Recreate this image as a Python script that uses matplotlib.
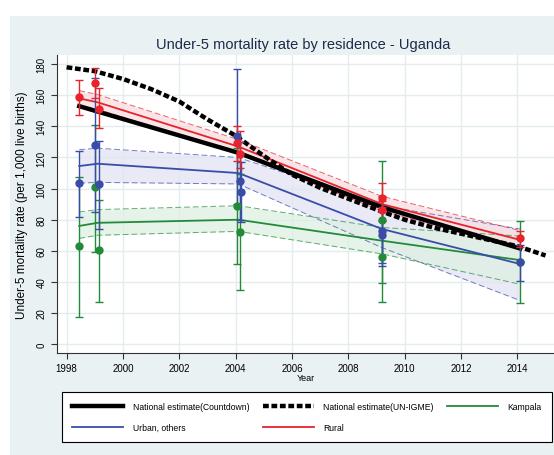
import numpy as np
import matplotlib.pyplot as plt
from matplotlib.patches import Rectangle

plt.rcParams['font.family'] = ['Liberation Sans', 'DejaVu Sans']

# 国家估计
igme_years = [1998, 1999, 2000, 2001, 2002, 2003, 2004, 2005, 2006, 2007, 2008, 2009, 2010, 2011, 2012, 2013, 2014, 2015]
igme_vals = [178, 175.5, 170.5, 164, 156, 144.5, 134, 121, 109, 100.5, 93.5, 86.5, 80, 75, 71, 67, 63, 57]
cd_years = [1998.45, 2004.1, 2009.2, 2014.1]
cd_vals = [153, 123, 88, 61.5]

# 平滑线和置信带
fit_years = [1998.45, 1999.1, 2004.1, 2009.2, 2014.1]
rural_fit = [158, 155.5, 127, 90, 67]
rural_hi = [163, 160.5, 131.5, 95, 73]
rural_lo = [153, 151, 122.5, 85.5, 61.5]
urban_fit = [114.5, 116, 110, 74, 51.5]
urban_hi = [125, 126, 120, 89, 74]
urban_lo = [103.5, 104, 103, 62, 28]
kamp_fit = [76, 78, 80, 66.5, 54]
kamp_hi = [85, 86.5, 89, 75, 69.5]
kamp_lo = [68, 70, 72.5, 58, 38.5]

# 调查点 (年份, 值, 下限, 上限)
rural_x = [1998.45, 1999.02, 1999.15, 2004.05, 2004.15, 2009.2, 2009.2, 2014.1]
rural_y = [159, 168, 151.5, 129, 122, 94, 86, 68]
rural_l = [147.5, 158, 139, 118, 113, 85.5, 79, 62.5]
rural_h = [170, 177.5, 164.5, 140, 137, 103.5, 92, 73]

urban_x = [1998.45, 1999.02, 1999.15, 2004.05, 2004.15, 2004.18, 2009.2, 2009.2, 2014.1]
urban_y = [103.5, 128, 103, 133.5, 105, 98, 73, 70, 52.5]
urban_l = [82, 85, 74, 90, 80, 78.5, 50.5, 52, 40.8]
urban_h = [124, 171, 130.5, 177, 130, 117, 95.5, 88, 64]

kamp_x = [1998.45, 1999.02, 1999.15, 2004.05, 2004.15, 2009.2, 2009.2, 2014.1]
kamp_y = [63.3, 101, 60.6, 88.7, 72.3, 79.7, 56.3, 53]
kamp_l = [17.3, 59, 27.3, 51.6, 35, 39.4, 27.3, 26.7]
kamp_h = [107.3, 141, 92.9, 126, 109.6, 118, 85, 79]

xticks = list(range(1998, 2015, 2))
yticks = list(range(0, 181, 20))

red = '#e8232b'
blue = '#3a4ca8'
green = '#238a3a'
dash = (0, (1.3, 0.6))

fig = plt.figure(figsize=(5.54, 4.56), dpi=100)
fig.patch.set_facecolor('white')
fig.patches.append(Rectangle((10 / 554, 0), 1, 1 - 17 / 456, transform=fig.transFigure,
                             facecolor='#e9f1f3', edgecolor='none', zorder=-5))

ax = fig.add_axes([57 / 554, 1 - 354 / 456, 1 - 57 / 554, 298 / 456])
ax.set_zorder(2)
ax.set_facecolor('white')

for fy, hi, lo, c, fc in [(fit_years, urban_hi, urban_lo, blue, '#e2e4f4'),
                          (fit_years, kamp_hi, kamp_lo, green, '#def0e2'),
                          (fit_years, rural_hi, rural_lo, red, '#f8dde0')]:
    ax.fill_between(fy, lo, hi, color=fc, alpha=0.75, lw=0, zorder=1)
    ax.plot(fy, hi, color=c, lw=0.7, ls=(0, (6, 3)), alpha=0.7, zorder=2)
    ax.plot(fy, lo, color=c, lw=0.7, ls=(0, (6, 3)), alpha=0.7, zorder=2)

ax.plot(fit_years, kamp_fit, color=green, lw=1.3, zorder=3)
ax.plot(fit_years, urban_fit, color=blue, lw=1.3, zorder=3)
ax.plot(fit_years, rural_fit, color=red, lw=1.3, zorder=3)

ax.plot(cd_years, cd_vals, color='black', lw=3.2, zorder=3)
ax.plot(igme_years, igme_vals, color='black', lw=3.2, ls=dash, zorder=3)

for xs, ys, ls_, hs, c in [(kamp_x, kamp_y, kamp_l, kamp_h, green),
                           (urban_x, urban_y, urban_l, urban_h, blue),
                           (rural_x, rural_y, rural_l, rural_h, red)]:
    ys = np.array(ys)
    err = [ys - np.array(ls_), np.array(hs) - ys]
    ax.errorbar(xs, ys, yerr=err, fmt='o', color=c, ms=5, lw=1, capsize=3, capthick=1, zorder=4)

ax.set_xlim(1997.66, 2015.3)
ax.set_ylim(-5.7, 185.9)
ax.set_xticks(xticks)
ax.set_yticks(yticks)
ax.tick_params(axis='both', labelsize=7, color='#333333', length=4, direction='out')
for lab in ax.get_yticklabels():
    lab.set_rotation(90)
    lab.set_va('center')
ax.grid(True, color='#e3ecef', lw=1)
ax.set_axisbelow(True)
ax.spines['top'].set_visible(False)
ax.spines['right'].set_visible(False)
ax.spines['left'].set_color('#333333')
ax.spines['bottom'].set_color('#333333')

ax.set_xlabel('Year', fontsize=6.5, labelpad=0)
ax.set_ylabel('Under-5 mortality rate (per 1,000 live births)', fontsize=8.5, labelpad=6)

fig.text(303 / 554, 1 - 45 / 456, 'Under-5 mortality rate by residence - Uganda',
         ha='center', va='center', fontsize=10.5, color='#1e2a4a')

h1, = ax.plot([], [], color='black', lw=3.2)
h2, = ax.plot([], [], color='black', lw=3.2, ls=dash)
h3, = ax.plot([], [], color=green, lw=1.3)
h4, = ax.plot([], [], color=blue, lw=1.3)
h5, = ax.plot([], [], color=red, lw=1.3)
leg = fig.legend([h1, h4, h2, h5, h3],
                 ['National estimate(Countdown)', 'Urban, others', 'National estimate(UN-IGME)',
                  'Rural', 'Kampala'],
                 ncol=3, loc='upper left', mode='expand', borderaxespad=0,
                 bbox_to_anchor=(62 / 554, 0, 490 / 554, 1 - 393 / 456),
                 fontsize=6.2, handlelength=5.9, handletextpad=1.1, frameon=True, fancybox=False,
                 edgecolor='black', framealpha=1, borderpad=1.2, labelspacing=1.3)
leg.get_frame().set_linewidth(0.8)

fig.savefig('out.png', dpi=100)
